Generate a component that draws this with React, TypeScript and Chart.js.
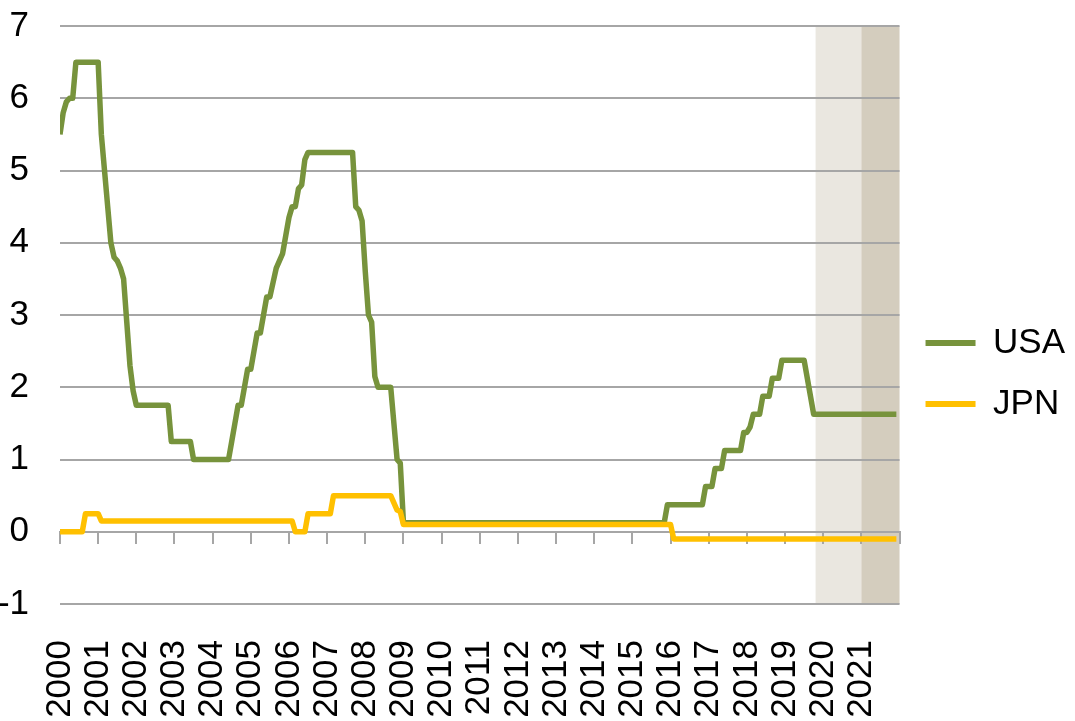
import React, { useEffect, useRef } from 'react';
import { Chart, registerables } from 'chart.js';

Chart.register(...registerables);

const FONT = "'Liberation Sans', Arial, sans-serif";
const START_YEAR = 2000;
const END_YEAR = 2022;

const yearLabels = [
  '2000', '2001', '2002', '2003', '2004', '2005', '2006', '2007', '2008', '2009', '2010',
  '2011', '2012', '2013', '2014', '2015', '2016', '2017', '2018', '2019', '2020', '2021',
];

const seriesNames = ['USA', 'JPN'];
const seriesColors = ['#77933c', '#ffc000'];

// Monthly policy rates, Jan 2000 – Dec 2021 (12 values per row)
const usaRates = [
  5.5, 5.8, 5.95, 6.0, 6.0, 6.5, 6.5, 6.5, 6.5, 6.5, 6.5, 6.5, // 2000
  6.5, 5.5, 5.0, 4.5, 4.0, 3.8, 3.75, 3.65, 3.5, 2.9, 2.3, 1.95, // 2001
  1.75, 1.75, 1.75, 1.75, 1.75, 1.75, 1.75, 1.75, 1.75, 1.75, 1.75, 1.25, // 2002
  1.25, 1.25, 1.25, 1.25, 1.25, 1.25, 1.0, 1.0, 1.0, 1.0, 1.0, 1.0, // 2003
  1.0, 1.0, 1.0, 1.0, 1.0, 1.0, 1.25, 1.5, 1.75, 1.75, 2.0, 2.25, // 2004
  2.25, 2.5, 2.75, 2.75, 3.0, 3.25, 3.25, 3.45, 3.65, 3.75, 3.85, 4.1, // 2005
  4.35, 4.5, 4.5, 4.75, 4.8, 5.15, 5.25, 5.25, 5.25, 5.25, 5.25, 5.25, // 2006
  5.25, 5.25, 5.25, 5.25, 5.25, 5.25, 5.25, 5.25, 5.25, 4.5, 4.45, 4.3, // 2007
  3.6, 3.0, 2.9, 2.15, 2.0, 2.0, 2.0, 2.0, 2.0, 1.5, 1.0, 0.95, // 2008
  0.125, 0.125, 0.125, 0.125, 0.125, 0.125, 0.125, 0.125, 0.125, 0.125, 0.125, 0.125, // 2009
  0.125, 0.125, 0.125, 0.125, 0.125, 0.125, 0.125, 0.125, 0.125, 0.125, 0.125, 0.125, // 2010
  0.125, 0.125, 0.125, 0.125, 0.125, 0.125, 0.125, 0.125, 0.125, 0.125, 0.125, 0.125, // 2011
  0.125, 0.125, 0.125, 0.125, 0.125, 0.125, 0.125, 0.125, 0.125, 0.125, 0.125, 0.125, // 2012
  0.125, 0.125, 0.125, 0.125, 0.125, 0.125, 0.125, 0.125, 0.125, 0.125, 0.125, 0.125, // 2013
  0.125, 0.125, 0.125, 0.125, 0.125, 0.125, 0.125, 0.125, 0.125, 0.125, 0.125, 0.125, // 2014
  0.125, 0.125, 0.125, 0.125, 0.125, 0.125, 0.125, 0.125, 0.125, 0.125, 0.125, 0.375, // 2015
  0.375, 0.375, 0.375, 0.375, 0.375, 0.375, 0.375, 0.375, 0.375, 0.375, 0.375, 0.625, // 2016
  0.625, 0.625, 0.875, 0.875, 0.875, 1.125, 1.125, 1.125, 1.125, 1.125, 1.125, 1.375, // 2017
  1.375, 1.45, 1.625, 1.625, 1.625, 1.875, 1.875, 1.875, 2.125, 2.125, 2.125, 2.375, // 2018
  2.375, 2.375, 2.375, 2.375, 2.375, 2.375, 2.375, 2.125, 1.875, 1.625, 1.625, 1.625, // 2019
  1.625, 1.625, 1.625, 1.625, 1.625, 1.625, 1.625, 1.625, 1.625, 1.625, 1.625, 1.625, // 2020
  1.625, 1.625, 1.625, 1.625, 1.625, 1.625, 1.625, 1.625, 1.625, 1.625, 1.625, 1.625, // 2021
];

const jpnRates = [
  0, 0, 0, 0, 0, 0, 0, 0, 0.25, 0.25, 0.25, 0.25, // 2000
  0.25, 0.15, 0.15, 0.15, 0.15, 0.15, 0.15, 0.15, 0.15, 0.15, 0.15, 0.15, // 2001
  0.15, 0.15, 0.15, 0.15, 0.15, 0.15, 0.15, 0.15, 0.15, 0.15, 0.15, 0.15, // 2002
  0.15, 0.15, 0.15, 0.15, 0.15, 0.15, 0.15, 0.15, 0.15, 0.15, 0.15, 0.15, // 2003
  0.15, 0.15, 0.15, 0.15, 0.15, 0.15, 0.15, 0.15, 0.15, 0.15, 0.15, 0.15, // 2004
  0.15, 0.15, 0.15, 0.15, 0.15, 0.15, 0.15, 0.15, 0.15, 0.15, 0.15, 0.15, // 2005
  0.15, 0.15, 0, 0, 0, 0, 0.25, 0.25, 0.25, 0.25, 0.25, 0.25, // 2006
  0.25, 0.25, 0.5, 0.5, 0.5, 0.5, 0.5, 0.5, 0.5, 0.5, 0.5, 0.5, // 2007
  0.5, 0.5, 0.5, 0.5, 0.5, 0.5, 0.5, 0.5, 0.5, 0.4, 0.3, 0.28, // 2008
  0.1, 0.1, 0.1, 0.1, 0.1, 0.1, 0.1, 0.1, 0.1, 0.1, 0.1, 0.1, // 2009
  0.1, 0.1, 0.1, 0.1, 0.1, 0.1, 0.1, 0.1, 0.1, 0.1, 0.1, 0.1, // 2010
  0.1, 0.1, 0.1, 0.1, 0.1, 0.1, 0.1, 0.1, 0.1, 0.1, 0.1, 0.1, // 2011
  0.1, 0.1, 0.1, 0.1, 0.1, 0.1, 0.1, 0.1, 0.1, 0.1, 0.1, 0.1, // 2012
  0.1, 0.1, 0.1, 0.1, 0.1, 0.1, 0.1, 0.1, 0.1, 0.1, 0.1, 0.1, // 2013
  0.1, 0.1, 0.1, 0.1, 0.1, 0.1, 0.1, 0.1, 0.1, 0.1, 0.1, 0.1, // 2014
  0.1, 0.1, 0.1, 0.1, 0.1, 0.1, 0.1, 0.1, 0.1, 0.1, 0.1, 0.1, // 2015
  0.1, -0.1, -0.1, -0.1, -0.1, -0.1, -0.1, -0.1, -0.1, -0.1, -0.1, -0.1, // 2016
  -0.1, -0.1, -0.1, -0.1, -0.1, -0.1, -0.1, -0.1, -0.1, -0.1, -0.1, -0.1, // 2017
  -0.1, -0.1, -0.1, -0.1, -0.1, -0.1, -0.1, -0.1, -0.1, -0.1, -0.1, -0.1, // 2018
  -0.1, -0.1, -0.1, -0.1, -0.1, -0.1, -0.1, -0.1, -0.1, -0.1, -0.1, -0.1, // 2019
  -0.1, -0.1, -0.1, -0.1, -0.1, -0.1, -0.1, -0.1, -0.1, -0.1, -0.1, -0.1, // 2020
  -0.1, -0.1, -0.1, -0.1, -0.1, -0.1, -0.1, -0.1, -0.1, -0.1, -0.1, -0.1, // 2021
];

// Shaded forecast periods (in years)
const shadeStarts = [2019.8, 2021];
const shadeEnds = [2021, 2022];
const shadeColors = ['#eae7e0', '#d4cdbe'];

const toPoints = (values: number[]) =>
  values.map((v, i) => ({ x: START_YEAR + i / 12, y: v }));

const shadePlugin = {
  id: 'shade',
  beforeDraw(chart: any) {
    const { ctx, chartArea, scales } = chart;
    const xs = scales.x;
    ctx.save();
    shadeStarts.forEach((s, i) => {
      const x0 = xs.getPixelForValue(s);
      const x1 = xs.getPixelForValue(shadeEnds[i]);
      ctx.fillStyle = shadeColors[i];
      ctx.fillRect(x0, chartArea.top, x1 - x0, chartArea.bottom - chartArea.top);
    });
    ctx.restore();
  },
};

export default function App() {
  const ref = useRef<HTMLCanvasElement>(null);

  useEffect(() => {
    document.body.style.margin = '0';
    const canvas = ref.current;
    if (!canvas) return;
    const chart = new Chart(canvas, {
      type: 'line',
      data: {
        datasets: [
          {
            label: seriesNames[0],
            data: toPoints(usaRates),
            borderColor: seriesColors[0],
            backgroundColor: seriesColors[0],
            borderWidth: 5.5,
            pointRadius: 0,
            tension: 0,
            borderJoinStyle: 'round',
            order: 1,
          },
          {
            label: seriesNames[1],
            data: toPoints(jpnRates),
            borderColor: seriesColors[1],
            backgroundColor: seriesColors[1],
            borderWidth: 5.5,
            pointRadius: 0,
            tension: 0,
            borderJoinStyle: 'round',
            order: 0,
          },
        ],
      },
      options: {
        animation: false,
        responsive: false,
        maintainAspectRatio: false,
        layout: { padding: { top: 26, left: 0, right: 0, bottom: 0 } },
        plugins: {
          tooltip: { enabled: false },
          legend: {
            position: 'right',
            align: 'center',
            labels: {
              boxWidth: 50,
              boxHeight: 6,
              padding: 26,
              color: '#000',
              font: { size: 35, family: FONT },
              sort: (a: any, b: any) => a.datasetIndex - b.datasetIndex,
              generateLabels: (c: any) =>
                (Chart.defaults.plugins.legend.labels as any)
                  .generateLabels(c)
                  .map((l: any) => ({ ...l, lineWidth: 0, fillStyle: l.strokeStyle })),
            },
          },
        },
        scales: {
          x: {
            type: 'linear',
            axis: 'x',
            position: { y: 0 },
            min: START_YEAR,
            max: END_YEAR,
            ticks: { display: false, stepSize: 1 },
            grid: {
              display: true,
              drawOnChartArea: false,
              drawTicks: true,
              tickLength: 11,
              color: '#a6a6a6',
              lineWidth: 2,
            },
            border: { display: true, color: '#a6a6a6', width: 2 },
          },
          x2: {
            type: 'linear',
            axis: 'x',
            position: 'bottom',
            min: START_YEAR,
            max: END_YEAR,
            grid: { display: false, drawTicks: false },
            border: { display: false },
            ticks: {
              stepSize: 1,
              autoSkip: false,
              minRotation: 90,
              maxRotation: 90,
              padding: 36,
              color: '#000',
              font: { size: 35, family: FONT },
              callback: (v: any) => yearLabels[Math.round(Number(v)) - START_YEAR] ?? '',
            },
            afterFit: (s: any) => {
              s.height = 117;
            },
          },
          y: {
            type: 'linear',
            position: 'left',
            min: -1,
            max: 7,
            ticks: {
              stepSize: 1,
              padding: 0,
              color: '#000',
              font: { size: 35, family: FONT },
            },
            grid: {
              color: '#a6a6a6',
              lineWidth: 2,
              drawTicks: true,
              tickLength: 31,
              tickColor: 'rgba(0,0,0,0)',
            },
            border: { display: false },
            afterFit: (s: any) => {
              s.width = 60;
            },
          },
        },
      },
      plugins: [shadePlugin],
    } as any);
    return () => chart.destroy();
  }, []);

  return (
    <div style={{ width: 1075, height: 721 }}>
      <canvas ref={ref} width={1075} height={721} style={{ display: 'block' }} />
    </div>
  );
}
